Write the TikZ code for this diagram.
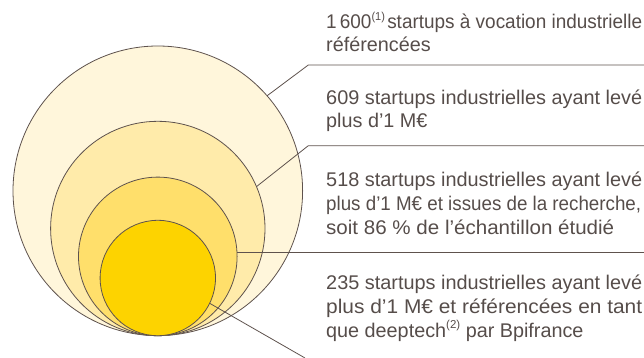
\documentclass[tikz,border=0pt]{standalone}
\usepackage{fontspec}
\setmainfont{Liberation Sans}
\usepackage{graphicx}
\definecolor{ink}{HTML}{5E524D}
\definecolor{txt}{HTML}{564D4A}
\definecolor{ringA}{HTML}{FFF6DB}
\definecolor{ringB}{HTML}{FFEBAA}
\definecolor{ringC}{HTML}{FFDF6B}
\definecolor{ringD}{HTML}{FDD300}
% squeeze a line horizontally to a given width
\newcommand{\fitto}[2]{\resizebox{#1}{\height}{#2}}
% small footnote call
\newcommand{\notecall}[1]{\raisebox{0.42em}{\fontsize{11.5}{11.5}\selectfont #1}}
\begin{document}
\begin{tikzpicture}[x=1pt,y=-1pt,
  ring/.style={circle, draw=ink, line width=0.8pt, inner sep=0pt, outer sep=0pt},
  leader/.style={draw=ink, line width=0.8pt},
  legendtext/.style={anchor=base west, align=left, inner sep=0pt, text=txt,
    font=\fontsize{19.8}{23.6}\selectfont}]
\useasboundingbox (0,0) rectangle (644,358);

% nested circles, all touching at the bottom
\node[ring, fill=ringA, minimum size=289.6pt] (c1) at (157.8,190.8) {};
\node[ring, fill=ringB, minimum size=214.4pt] (c2) at (157.8,228.5) {};
\node[ring, fill=ringC, minimum size=158.6pt] (c3) at (157.8,256.4) {};
\node[ring, fill=ringD, minimum size=115.4pt] (c4) at (157.8,278.0) {};

% leader lines
\coordinate (k1) at (308.3,65);
\coordinate (e1) at (644,65);
\coordinate (k2) at (308.3,145.7);
\coordinate (e2) at (644,145.7);
\coordinate (e3) at (644,252);
\coordinate (e4) at (305,358);
\draw[leader] (c1.41.6) -- (k1) -- (e1);
\draw[leader] (c2.23) -- (k2) -- (e2);
\draw[leader] (c3.3.2) -- (c3.3.2 -| e3);
\draw[leader] (c4.-26.8) -- (e4);

% descriptions (placed by the baseline of their last line)
\node[legendtext] (t1) at (326,52)
  {\fitto{316pt}{1\,600\notecall{(1)}\hspace{0.12em}startups à vocation industrielle}\\
   référencées};
\node[legendtext] (t2) at (326,128)
  {\fitto{316pt}{609 startups industrielles ayant levé}\\
   plus d’1 M€};
\node[legendtext] (t3) at (326,234)
  {\fitto{316pt}{518 startups industrielles ayant levé}\\
   \fitto{315pt}{plus d’1 M€ et issues de la recherche,}\\
   \fitto{288pt}{soit 86 \% de l’échantillon étudié}};
\node[legendtext] (t4) at (326,337)
  {\fitto{316pt}{235 startups industrielles ayant levé}\\
   \fitto{316pt}{plus d’1 M€ et référencées en tant}\\
   que deeptech\notecall{(2)} par Bpifrance};
\end{tikzpicture}
\end{document}
